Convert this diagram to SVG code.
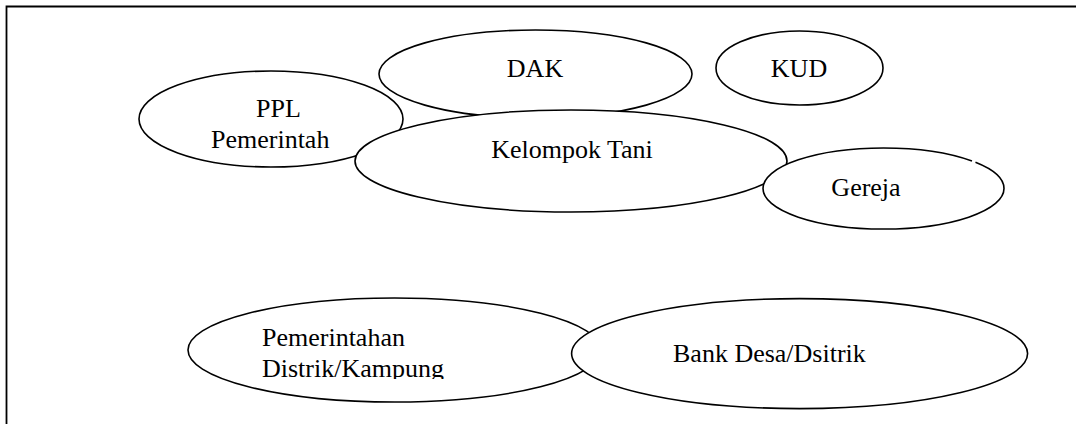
<svg xmlns="http://www.w3.org/2000/svg" width="1076" height="424" viewBox="0 0 1076 424">
<style>
.n{fill:#fff;stroke:#000;stroke-width:1.6}
.t{font-family:"Liberation Serif","Times New Roman",serif;font-size:26px;fill:#000}
.frame{fill:none;stroke:#000;stroke-width:1.8}
</style>
<defs>
<clipPath id="clipPem"><rect x="180" y="290" width="420" height="89"/></clipPath>
</defs>
<rect width="1076" height="424" fill="#fff"/>
<path class="frame" d="M6.5,424 V6.5 H1076"/>
<g id="connectors"></g>
<g id="ppl">
<ellipse class="n" cx="271" cy="119" rx="132" ry="48"/>
<text class="t" x="256" y="117">PPL</text>
<text class="t" x="211" y="148">Pemerintah</text>
</g>
<g id="dak">
<ellipse class="n" cx="535.5" cy="74" rx="156.5" ry="44"/>
<text class="t" x="535" y="77" text-anchor="middle">DAK</text>
</g>
<g id="kelompok-tani">
<ellipse class="n" cx="571" cy="161" rx="216" ry="51"/>
<text class="t" x="572" y="158" text-anchor="middle">Kelompok Tani</text>
</g>
<g id="kud">
<ellipse class="n" cx="799.5" cy="68" rx="83.5" ry="37"/>
<text class="t" x="799" y="77" text-anchor="middle">KUD</text>
</g>
<g id="gereja">
<ellipse cx="883.5" cy="188.5" rx="120.5" ry="40.5" fill="#fff"/>
<ellipse class="n" cx="883.5" cy="188.5" rx="120.5" ry="40.5" fill="none" pathLength="1000" stroke-dasharray="917 7 1000"/>
<text class="t" x="866" y="196" text-anchor="middle">Gereja</text>
</g>
<g id="pemerintahan">
<ellipse class="n" cx="394.5" cy="350" rx="206.5" ry="52"/>
<g clip-path="url(#clipPem)">
<text class="t" x="262" y="346">Pemerintahan</text>
<text class="t" x="262" y="377">Distrik/Kampung</text>
</g>
</g>
<g id="bank">
<ellipse class="n" cx="799.6" cy="353.6" rx="228" ry="55"/>
<text class="t" x="673" y="362">Bank Desa/Dsitrik</text>
</g>
</svg>
